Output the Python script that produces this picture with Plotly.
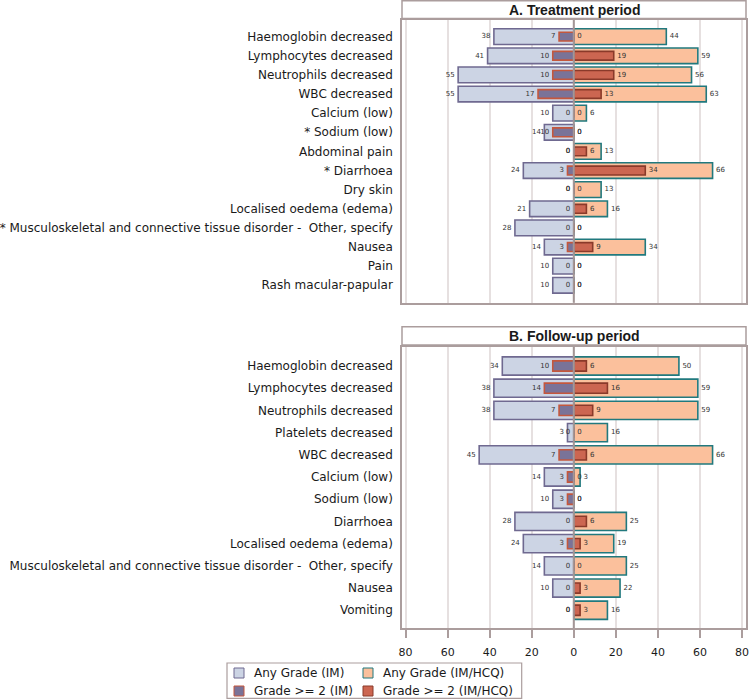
import plotly.graph_objects as go
from plotly.subplots import make_subplots

# ---------------- data ----------------
cats_a = ["Haemoglobin decreased", "Lymphocytes decreased", "Neutrophils decreased",
          "WBC decreased", "Calcium (low)", "* Sodium (low)", "Abdominal pain",
          "* Diarrhoea", "Dry skin", "Localised oedema (edema)",
          "* Musculoskeletal and connective tissue disorder - \u00a0Other, specify",
          "Nausea", "Pain", "Rash macular-papular"]
a_im_any = [38, 41, 55, 55, 10, 14, 0, 24, 0, 21, 28, 14, 10, 10]
a_im_g2 = [7, 10, 10, 17, 0, 10, 0, 3, 0, 0, 0, 3, 0, 0]
a_hcq_g2 = [0, 19, 19, 13, 0, 0, 6, 34, 0, 6, 0, 9, 0, 0]
a_hcq_any = [44, 59, 56, 63, 6, 0, 13, 66, 13, 16, 0, 34, 0, 0]

cats_b = ["Haemoglobin decreased", "Lymphocytes decreased", "Neutrophils decreased",
          "Platelets decreased", "WBC decreased", "Calcium (low)", "Sodium (low)",
          "Diarrhoea", "Localised oedema (edema)",
          "Musculoskeletal and connective tissue disorder - \u00a0Other, specify",
          "Nausea", "Vomiting"]
b_im_any = [34, 38, 38, 3, 45, 14, 10, 28, 24, 14, 10, 0]
b_im_g2 = [10, 14, 7, 0, 7, 3, 3, 0, 3, 0, 0, 0]
b_hcq_g2 = [6, 16, 9, 0, 6, 0, 0, 6, 3, 0, 3, 3]
b_hcq_any = [50, 59, 59, 16, 66, 3, 0, 25, 19, 25, 22, 16]

panel_titles = ["A. Treatment period", "B. Follow-up period"]
series_names = ["Any Grade (IM)", "Grade >= 2 (IM)", "Any Grade (IM/HCQ)", "Grade >= 2 (IM/HCQ)"]
x_ticks = [-80, -60, -40, -20, 0, 20, 40, 60, 80]
x_tick_text = ["80", "60", "40", "20", "0", "20", "40", "60", "80"]

# ---------------- style ----------------
W, H = 749, 699
ML, MR, MT, MB = 402, 3, 0, 71
PH = H - MT - MB  # 628
PW = W - ML - MR  # 344

def py(px):
    return (PH - px) / PH

def px_(x):
    return (x - ML) / PW

FRAME = "#ab9d9d"
GRID = "#e6e0e0"
FILL_IM = "#ccd4e4"; LINE_IM = "#6f6990"
FILL_IM2 = "#7a7398"; LINE_IM2 = "#c4573d"
FILL_H = "#fbc09c"; LINE_H = "#21797e"
FILL_H2 = "#cc6651"; LINE_H2 = "#8a3a2a"
FONT = "DejaVu Sans"
OUTER_W, INNER_W = 0.82, 0.46
LW = 1.6

series_fill = [FILL_IM, FILL_IM2, FILL_H, FILL_H2]
series_line = [LINE_IM, LINE_IM2, LINE_H, LINE_H2]

fig = make_subplots(rows=2, cols=1, vertical_spacing=0.05)

panels = [
    (cats_a, a_im_any, a_im_g2, a_hcq_g2, a_hcq_any, 1),
    (cats_b, b_im_any, b_im_g2, b_hcq_g2, b_hcq_any, 2),
]

for cats, im_any, im_g2, h_g2, h_any, row in panels:
    n = len(cats)
    bars = [
        ([-v for v in im_any], 0, OUTER_W),
        (h_any, 2, OUTER_W),
        ([-v for v in im_g2], 1, INNER_W),
        (h_g2, 3, INNER_W),
    ]
    for xs, k, w in bars:
        fig.add_trace(go.Bar(y=cats, x=xs, orientation="h", name=series_names[k],
                             width=[w] * n,
                             marker=dict(color=series_fill[k], line=dict(color=series_line[k], width=LW)),
                             showlegend=False, hoverinfo="skip"), row=row, col=1)
    # value labels
    for vals, sign, pos in [(im_any, -1, "middle left"), (im_g2, -1, "middle left"),
                            (h_g2, 1, "middle right"), (h_any, 1, "middle right")]:
        fig.add_trace(go.Scatter(y=cats, x=[sign * v for v in vals], mode="markers+text",
                                 text=[str(v) for v in vals], textposition=pos,
                                 marker=dict(size=4, color="rgba(0,0,0,0)"),
                                 textfont=dict(family=FONT, size=7, color="#333333"),
                                 cliponaxis=False, showlegend=False, hoverinfo="skip"), row=row, col=1)

fig.update_layout(
    width=W, height=H, barmode="overlay", showlegend=False,
    margin=dict(l=ML, r=MR, t=MT, b=MB, autoexpand=False),
    paper_bgcolor="white", plot_bgcolor="white",
    font=dict(family=FONT, size=12, color="#1a1a1a"),
)

axis_common = dict(range=[-81.7, 81.9], tickvals=x_ticks, ticktext=x_tick_text,
                   showgrid=True, gridcolor=GRID, gridwidth=1.5, zeroline=False,
                   showline=True, mirror=True, linecolor=FRAME, linewidth=1.5)
fig.update_xaxes(**axis_common)
fig.update_xaxes(showticklabels=False, ticks="", row=1, col=1)
fig.update_xaxes(showticklabels=True, ticks="outside", ticklen=8, tickwidth=1.5, tickcolor=FRAME,
                 ticklabelstandoff=5,
                 tickfont=dict(family=FONT, size=11, color="#1a1a1a"), row=2, col=1)

fig.update_yaxes(type="category", categoryorder="array", categoryarray=cats_a,
                 range=[13.91, -0.87], showgrid=False, showline=True, mirror=True,
                 linecolor=FRAME, linewidth=1.5, ticks="", ticklabelstandoff=5,
                 tickfont=dict(family=FONT, size=12, color="#1a1a1a"), row=1, col=1)
fig.update_yaxes(type="category", categoryorder="array", categoryarray=cats_b,
                 range=[11.8, -0.87], showgrid=False, showline=True, mirror=True,
                 linecolor=FRAME, linewidth=1.5, ticks="", ticklabelstandoff=5,
                 tickfont=dict(family=FONT, size=12, color="#1a1a1a"), row=2, col=1)

fig.update_layout(
    yaxis=dict(domain=[py(302.7), py(20)]),
    yaxis2=dict(domain=[py(628), py(346.7)]),
)

shapes = []
annotations = []
# panel headers
for title, (y0, y1) in zip(panel_titles, [(0.7, 18.5), (326.7, 345)]):
    shapes.append(dict(type="rect", xref="paper", yref="paper", x0=0, x1=1, y0=py(y1), y1=py(y0),
                       line=dict(color=FRAME, width=1.5), fillcolor="white", layer="above"))
    annotations.append(dict(text="<b>%s</b>" % title, xref="paper", yref="paper", x=0.5,
                            y=py((y0 + y1) / 2), xanchor="center", yanchor="middle", showarrow=False,
                            font=dict(family="Liberation Sans", size=14, color="#1a1a1a")))
# centre lines above bars
for xr, yr in [("x", "y domain"), ("x2", "y2 domain")]:
    shapes.append(dict(type="line", xref=xr, yref=yr, x0=0, x1=0, y0=0, y1=1,
                       line=dict(color="#a39696", width=2), layer="above"))

# legend (2 x 2 grid, drawn in paper space)
shapes.append(dict(type="rect", xref="paper", yref="paper", x0=px_(227), x1=px_(521.7),
                   y0=py(698.3), y1=py(663), line=dict(color=FRAME, width=1.2), layer="below"))
legend_cells = [(0, 234, 673), (1, 234, 691), (2, 363, 673), (3, 363, 691)]
for k, sx, sy in legend_cells:
    shapes.append(dict(type="rect", xref="paper", yref="paper", x0=px_(sx), x1=px_(sx + 10),
                       y0=py(sy + 5), y1=py(sy - 5), fillcolor=series_fill[k],
                       line=dict(color=series_line[k], width=1)))
    annotations.append(dict(text=series_names[k], xref="paper", yref="paper", x=px_(sx + 17.5),
                            y=py(sy), xanchor="left", yanchor="middle", showarrow=False,
                            font=dict(family=FONT, size=12, color="#1a1a1a")))
fig.update_layout(shapes=shapes, annotations=annotations)

fig.write_html("out.html", config={"displayModeBar": False},
               post_script="document.body.style.margin='0';document.body.style.overflow='hidden';")
